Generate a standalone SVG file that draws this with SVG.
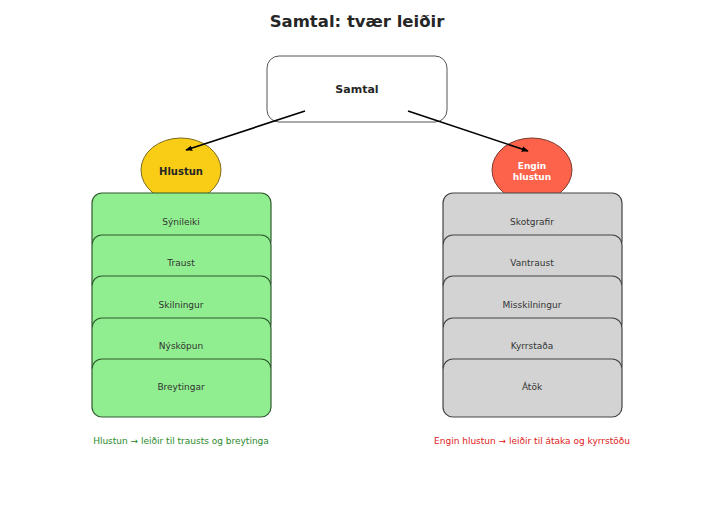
<svg xmlns="http://www.w3.org/2000/svg" width="713" height="510" viewBox="0 0 713 510">
<defs>
<marker id="ah" viewBox="0 0 10 10" refX="9" refY="5" markerWidth="7" markerHeight="7" orient="auto" markerUnits="userSpaceOnUse">
<path d="M0,1 L10,5 L0,9 z" fill="#000"/>
</marker>
<style>
text{font-family:"DejaVu Sans","Liberation Sans",sans-serif;text-anchor:middle}
.title{font-size:16.5px;font-weight:bold;fill:#262626}
.main{font-size:11px;font-weight:bold;fill:#262626}
.item{font-size:9px;fill:#333}
.g rect{fill:#90ee90;stroke:#2f5a2f;stroke-width:1.2}
.r rect{fill:#d3d3d3;stroke:#444;stroke-width:1.2}
.cap{font-size:9px}
</style>
</defs>
<rect width="713" height="510" fill="#fff"/>
<text class="title" x="357" y="27">Samtal: tvær leiðir</text>

<g id="samtal">
<rect x="267" y="56" width="180" height="66" rx="12" fill="#fff" stroke="#555" stroke-width="1"/>
<text class="main" x="357" y="93">Samtal</text>
</g>

<g id="hlustun">
<ellipse cx="181" cy="170" rx="40" ry="32" fill="#f9cd16" stroke="#7a6a20" stroke-width="1"/>
<text class="main" x="181" y="175" style="font-size:10px">Hlustun</text>
</g>
<g id="engin-hlustun">
<ellipse cx="532" cy="170" rx="40" ry="32" fill="#fd634a" stroke="#7a3a30" stroke-width="1"/>
<text class="main" x="532" y="169" style="font-size:9px;fill:#fff">Engin</text>
<text class="main" x="532" y="180" style="font-size:9px;fill:#fff">hlustun</text>
</g>

<g id="left-stack" class="g">
<g id="synileiki"><rect x="92" y="193" width="179" height="58" rx="10"/><text class="item" x="181" y="225">Sýnileiki</text></g>
<g id="traust"><rect x="92" y="235" width="179" height="58" rx="10"/><text class="item" x="181" y="266">Traust</text></g>
<g id="skilningur"><rect x="92" y="276" width="179" height="58" rx="10"/><text class="item" x="181" y="308">Skilningur</text></g>
<g id="nyskopun"><rect x="92" y="318" width="179" height="58" rx="10"/><text class="item" x="181" y="349">Nýsköpun</text></g>
<g id="breytingar"><rect x="92" y="359" width="179" height="58" rx="10"/><text class="item" x="181" y="390">Breytingar</text></g>
</g>

<g id="right-stack" class="r">
<g id="skotgrafir"><rect x="443" y="193" width="179" height="58" rx="10"/><text class="item" x="532" y="225">Skotgrafir</text></g>
<g id="vantraust"><rect x="443" y="235" width="179" height="58" rx="10"/><text class="item" x="532" y="266">Vantraust</text></g>
<g id="misskilningur"><rect x="443" y="276" width="179" height="58" rx="10"/><text class="item" x="532" y="308">Misskilningur</text></g>
<g id="kyrrstada"><rect x="443" y="318" width="179" height="58" rx="10"/><text class="item" x="532" y="349">Kyrrstaða</text></g>
<g id="atok"><rect x="443" y="359" width="179" height="58" rx="10"/><text class="item" x="532" y="390">Átök</text></g>
</g>

<g id="connectors" stroke="#000" stroke-width="1.6" fill="none">
<line x1="305" y1="111" x2="186" y2="150" marker-end="url(#ah)"/>
<line x1="408" y1="111" x2="528" y2="151" marker-end="url(#ah)"/>
</g>

<text class="cap" x="181" y="444" fill="#2a8a2a">Hlustun → leiðir til trausts og breytinga</text>
<text class="cap" x="532" y="444" fill="#e02020">Engin hlustun → leiðir til átaka og kyrrstöðu</text>
</svg>
